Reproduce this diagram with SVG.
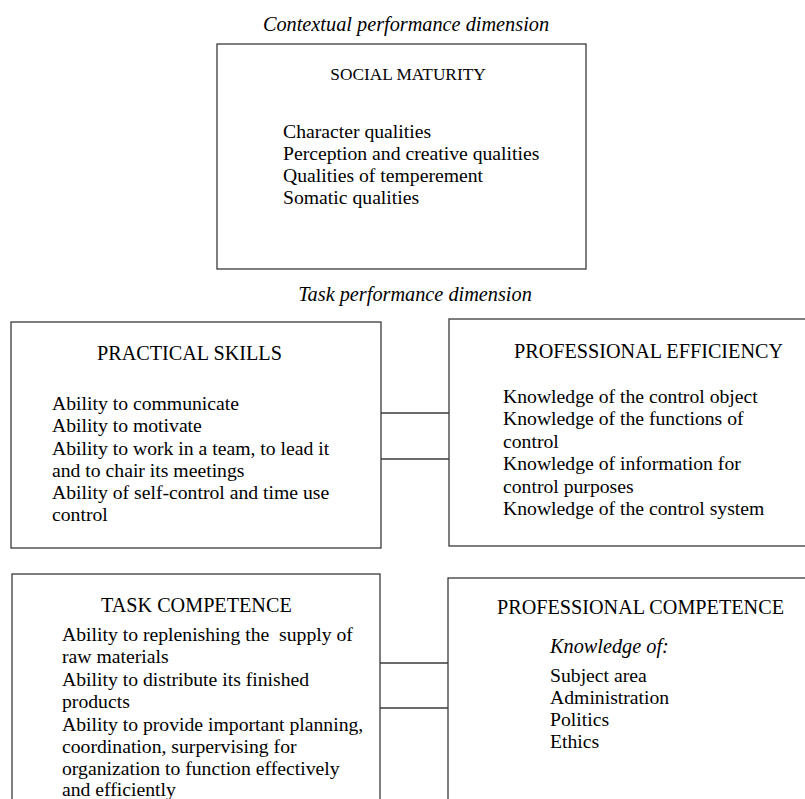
<svg xmlns="http://www.w3.org/2000/svg" width="805" height="799" viewBox="0 0 805 799">
<style>
.box{fill:#fff;stroke:#3a3a3a;stroke-width:1.3}
.t{font-family:"Liberation Serif","Times New Roman",serif;font-size:19.7px;fill:#000}
.h{font-family:"Liberation Serif","Times New Roman",serif;font-size:20.2px;fill:#000}
.hs{font-family:"Liberation Serif","Times New Roman",serif;font-size:17.3px;fill:#000}
.i{font-family:"Liberation Serif","Times New Roman",serif;font-size:20.3px;font-style:italic;fill:#000}
.c{stroke:#3a3a3a;stroke-width:1.3;fill:none}
</style>
<rect width="805" height="799" fill="#fff"/>
<text class="i" x="406" y="31" text-anchor="middle">Contextual performance dimension</text>
<text class="i" x="415" y="301" text-anchor="middle">Task performance dimension</text>
<g id="social-maturity">
<rect class="box" x="217" y="44" width="369" height="225"/>
<text class="hs" x="408" y="80" text-anchor="middle">SOCIAL MATURITY</text>
<text class="t" x="283" y="138">Character qualities</text>
<text class="t" x="283" y="160">Perception and creative qualities</text>
<text class="t" x="283" y="182">Qualities of temperement</text>
<text class="t" x="283" y="204">Somatic qualities</text>
</g>
<g id="practical-skills">
<rect class="box" x="11" y="322" width="370" height="226"/>
<text class="h" x="97" y="360">PRACTICAL SKILLS</text>
<text class="t" x="52" y="410">Ability to communicate</text>
<text class="t" x="52" y="432">Ability to motivate</text>
<text class="t" x="52" y="455">Ability to work in a team, to lead it</text>
<text class="t" x="52" y="477">and to chair its meetings</text>
<text class="t" x="52" y="499">Ability of self-control and time use</text>
<text class="t" x="52" y="521">control</text>
</g>
<g id="professional-efficiency">
<rect class="box" x="449" y="319" width="370" height="227"/>
<text class="h" x="514" y="358">PROFESSIONAL EFFICIENCY</text>
<text class="t" x="503" y="403">Knowledge of the control object</text>
<text class="t" x="503" y="425">Knowledge of the functions of</text>
<text class="t" x="503" y="448">control</text>
<text class="t" x="503" y="470">Knowledge of information for</text>
<text class="t" x="503" y="493">control purposes</text>
<text class="t" x="503" y="515">Knowledge of the control system</text>
</g>
<g id="task-competence">
<rect class="box" x="12" y="574" width="368" height="240"/>
<text class="h" x="101" y="612">TASK COMPETENCE</text>
<text class="t" x="62" y="641" style="white-space:pre">Ability to replenishing the  supply of</text>
<text class="t" x="62" y="663">raw materials</text>
<text class="t" x="62" y="686">Ability to distribute its finished</text>
<text class="t" x="62" y="708">products</text>
<text class="t" x="62" y="731">Ability to provide important planning,</text>
<text class="t" x="62" y="753">coordination, surpervising for</text>
<text class="t" x="62" y="775">organization to function effectively</text>
<text class="t" x="62" y="796">and efficiently</text>
</g>
<g id="professional-competence">
<rect class="box" x="448" y="578" width="370" height="240"/>
<text class="h" x="497" y="614">PROFESSIONAL COMPETENCE</text>
<text class="i" x="550" y="653">Knowledge of:</text>
<text class="t" x="550" y="682">Subject area</text>
<text class="t" x="550" y="704">Administration</text>
<text class="t" x="550" y="726">Politics</text>
<text class="t" x="550" y="748">Ethics</text>
</g>
<g id="connectors">
<line class="c" x1="381" y1="413" x2="449" y2="413"/>
<line class="c" x1="381" y1="459" x2="449" y2="459"/>
<line class="c" x1="380" y1="663" x2="448" y2="663"/>
<line class="c" x1="380" y1="708" x2="448" y2="708"/>
</g>
</svg>
